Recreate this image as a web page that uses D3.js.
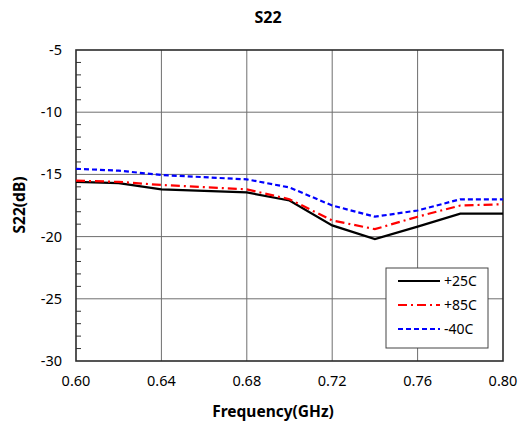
<!DOCTYPE html>
<html lang="en">
  <head>
    <meta charset="utf-8" />
    <script src="https://d3js.org/d3.v7.min.js"></script>
    <style type="text/css">
      body {
        margin: 0;
        background: white;
      }
      svg text {
        font-family: "Noto Sans", "Open Sans", sans-serif;
      }
    </style>
  </head>
  <body>
    <svg id="chart" width="526" height="426"></svg>

    <script>
      // frequencies in GHz
      let freq = [0.6, 0.62, 0.64, 0.68, 0.7, 0.72, 0.74, 0.76, 0.78, 0.8];
      let s22_25c = [-15.6, -15.7, -16.2, -16.45, -17.1, -19.1, -20.2, -19.2, -18.15, -18.15];
      let s22_85c = [-15.5, -15.6, -15.85, -16.2, -17.0, -18.7, -19.4, -18.4, -17.5, -17.4];
      let s22_m40c = [-14.55, -14.7, -15.05, -15.4, -16.05, -17.5, -18.4, -17.9, -17.0, -17.0];
      let seriesNames = ["+25C", "+85C", "-40C"];
      let xTicks = [0.6, 0.64, 0.68, 0.72, 0.76, 0.8];
      let yTicks = [-5, -10, -15, -20, -25, -30];

      let svg = d3.select("#chart");
      let plotL = 76, plotR = 503, plotT = 50, plotB = 361;

      let x = d3.scaleLinear([0.6, 0.8], [plotL, plotR]);
      let y = d3.scaleLinear([-30, -5], [plotB, plotT]);

      // gridlines
      svg.append("g")
        .selectAll("line")
        .data(xTicks.slice(1, -1))
        .enter()
        .append("line")
        .attr("x1", d => x(d)).attr("x2", d => x(d))
        .attr("y1", plotT).attr("y2", plotB)
        .attr("stroke", "#6e6e6e")
        .attr("stroke-width", 1);
      svg.append("g")
        .selectAll("line")
        .data(yTicks.slice(1, -1))
        .enter()
        .append("line")
        .attr("x1", plotL).attr("x2", plotR)
        .attr("y1", d => y(d)).attr("y2", d => y(d))
        .attr("stroke", "#6e6e6e")
        .attr("stroke-width", 1);

      // minor ticks on the left axis, every 1 dB
      let minor = d3.range(-29, -5).filter(d => d % 5 !== 0);
      svg.append("g")
        .selectAll("line")
        .data(minor)
        .enter()
        .append("line")
        .attr("x1", plotL).attr("x2", plotL + 5)
        .attr("y1", d => y(d)).attr("y2", d => y(d))
        .attr("stroke", "#333")
        .attr("stroke-width", 1);

      // frame
      svg.append("rect")
        .attr("x", plotL).attr("y", plotT)
        .attr("width", plotR - plotL).attr("height", plotB - plotT)
        .attr("fill", "none")
        .attr("stroke", "#2b2b2b")
        .attr("stroke-width", 1.6);

      // axes labels
      svg.append("g")
        .selectAll("text")
        .data(yTicks)
        .enter()
        .append("text")
        .attr("x", plotL - 14)
        .attr("y", d => y(d))
        .attr("dy", "0.35em")
        .attr("text-anchor", "end")
        .attr("font-size", 14.5)
        .text(d => d);
      svg.append("g")
        .selectAll("text")
        .data(xTicks)
        .enter()
        .append("text")
        .attr("x", d => x(d))
        .attr("y", plotB + 20)
        .attr("dy", "0.35em")
        .attr("text-anchor", "middle")
        .attr("font-size", 14.5)
        .text(d => d3.format(".2f")(d));

      svg.append("text")
        .attr("x", 268).attr("y", 17)
        .attr("dy", "0.35em")
        .attr("text-anchor", "middle")
        .attr("font-size", 16)
        .attr("font-weight", "bold")
        .text("S22");
      svg.append("text")
        .attr("x", 273).attr("y", 412)
        .attr("dy", "0.35em")
        .attr("text-anchor", "middle")
        .attr("font-size", 15.5)
        .attr("font-weight", "bold")
        .text("Frequency(GHz)");
      svg.append("text")
        .attr("transform", "translate(20,205) rotate(-90)")
        .attr("dy", "0.35em")
        .attr("text-anchor", "middle")
        .attr("font-size", 15.5)
        .attr("font-weight", "bold")
        .text("S22(dB)");

      // series
      let styles = [
        { color: "black", dash: null, width: 2.2 },
        { color: "#ff0000", dash: "9,4,2,4", width: 2.2 },
        { color: "#0000ff", dash: "5,3", width: 2.2 },
      ];
      let allSeries = [s22_25c, s22_85c, s22_m40c];
      let line = d3.line()
        .x((d, i) => x(freq[i]))
        .y(d => y(d));

      allSeries.forEach(function (vals, k) {
        svg.append("path")
          .attr("d", line(vals))
          .attr("fill", "none")
          .attr("stroke", styles[k].color)
          .attr("stroke-width", styles[k].width)
          .attr("stroke-dasharray", styles[k].dash);
      });

      // legend
      let lg = svg.append("g").attr("transform", "translate(386,268)");
      lg.append("rect")
        .attr("width", 102).attr("height", 80)
        .attr("fill", "white")
        .attr("stroke", "#444")
        .attr("stroke-width", 1);
      seriesNames.forEach(function (name, k) {
        let yy = 13 + k * 24;
        lg.append("line")
          .attr("x1", 12).attr("x2", 54)
          .attr("y1", yy).attr("y2", yy)
          .attr("stroke", styles[k].color)
          .attr("stroke-width", styles[k].width)
          .attr("stroke-dasharray", styles[k].dash);
        lg.append("text")
          .attr("x", 58).attr("y", yy)
          .attr("dy", "0.35em")
          .attr("font-size", 14)
          .text(name);
      });
    </script>
  </body>
</html>
